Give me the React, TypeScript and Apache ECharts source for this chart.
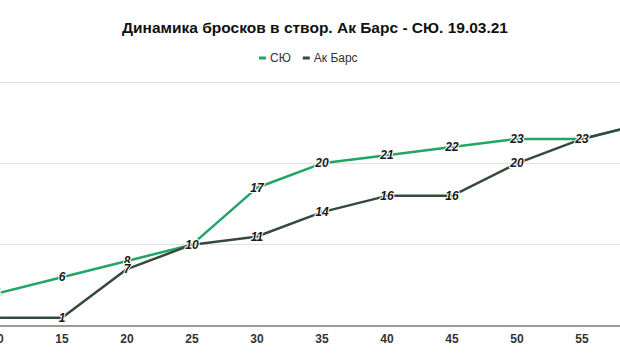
import React, { useEffect, useRef } from "react";
import * as echarts from "echarts";

const minutes = [10, 15, 20, 25, 30, 35, 40, 45, 50, 55, 60];
const syuValues = [4, 6, 8, 10, 17, 20, 21, 22, 23, 23, 25];
const akBarsValues = [1, 1, 7, 10, 11, 14, 16, 16, 20, 23, 25];
const seriesNames = ["СЮ", "Ак Барс"];
const titleText = "Динамика бросков в створ. Ак Барс - СЮ. 19.03.21";

const OFFSET = 50;

export default function App() {
  const ref = useRef<HTMLDivElement>(null);
  useEffect(() => {
    if (!ref.current) return;
    const chart = echarts.init(ref.current, undefined, { renderer: "svg" });
    const labelStyle = {
      show: true,
      position: "inside" as const,
      fontSize: 12,
      fontStyle: "italic" as const,
      fontWeight: "bold" as const,
      fontFamily: "Arial, Liberation Sans, sans-serif",
      color: "#1a1a1a",
      textBorderColor: "#ffffff",
      textBorderWidth: 2,
    };
    chart.setOption({
      animation: false,
      backgroundColor: "#ffffff",
      title: {
        text: titleText,
        left: 310 + OFFSET,
        top: 14,
        textAlign: "center",
        textStyle: {
          fontSize: 15.5,
          fontWeight: "bold",
          color: "#111",
          fontFamily: "Arial, Liberation Sans, sans-serif",
        },
      },
      legend: {
        data: seriesNames,
        left: 254 + OFFSET,
        top: 47,
        itemWidth: 7,
        itemHeight: 3,
        itemGap: 12,
        icon: "rect",
        textStyle: {
          fontSize: 12,
          color: "#333",
          fontFamily: "Arial, Liberation Sans, sans-serif",
          padding: [0, 0, 0, -1],
        },
      },
      grid: {
        left: OFFSET - 3,
        width: 650,
        top: 82,
        bottom: 38,
      },
      xAxis: {
        type: "value",
        min: 10,
        max: 60,
        interval: 5,
        axisLine: { show: true, lineStyle: { color: "#9a9a9a", width: 2 } },
        axisTick: { show: false },
        splitLine: { show: false },
        axisLabel: {
          fontSize: 12,
          fontWeight: "bold",
          color: "#333",
          margin: 7,
          showMaxLabel: false,
          fontFamily: "Arial, Liberation Sans, sans-serif",
        },
      },
      yAxis: {
        type: "value",
        min: 0,
        max: 30,
        interval: 10,
        axisLine: { show: false },
        axisTick: { show: false },
        axisLabel: { show: false },
        splitLine: { lineStyle: { color: "#e2e2e2", width: 1 } },
      },
      series: [
        {
          name: seriesNames[0],
          type: "line",
          data: minutes.map((m, i) => [m, syuValues[i]]),
          showSymbol: true,
          symbol: "circle",
          symbolSize: 0.5,
          lineStyle: { color: "#22a466", width: 2.5 },
          itemStyle: { color: "#22a466" },
          label: labelStyle,
          z: 2,
        },
        {
          name: seriesNames[1],
          type: "line",
          data: minutes.map((m, i) => [m, akBarsValues[i]]),
          showSymbol: true,
          symbol: "circle",
          symbolSize: 0.5,
          lineStyle: { color: "#344a3d", width: 2.5 },
          itemStyle: { color: "#344a3d" },
          label: labelStyle,
          z: 3,
        },
      ],
    });
    return () => chart.dispose();
  }, []);
  return (
    <div
      style={{
        position: "fixed",
        left: 0,
        top: 0,
        width: 620,
        height: 364,
        overflow: "hidden",
        background: "#fff",
      }}
    >
      <div
        ref={ref}
        style={{ position: "absolute", left: -OFFSET, top: 0, width: 750, height: 364 }}
      />
    </div>
  );
}
